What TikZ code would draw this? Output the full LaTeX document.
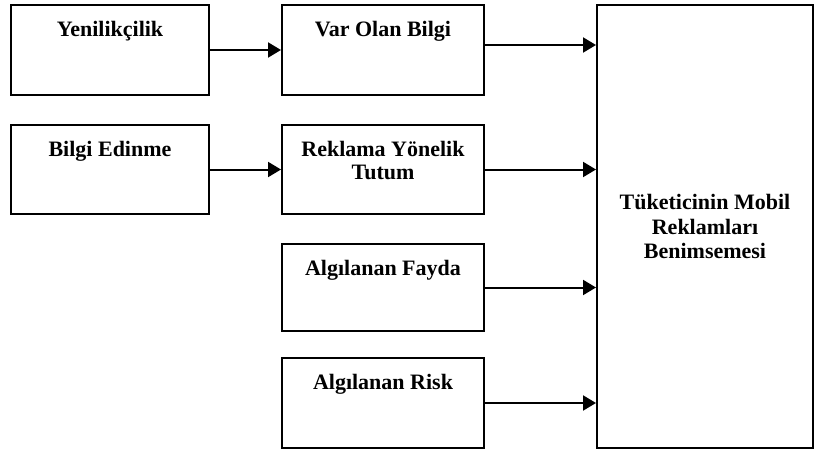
\documentclass[tikz,border=0pt]{standalone}
\usepackage{fontspec}
\setmainfont{Liberation Serif}
\usetikzlibrary{positioning,arrows.meta}

% text at the top of a box: width, height, text
\newcommand{\boxlabel}[3]{%
  \begin{minipage}[c][#2][t]{#1}\centering
  \vspace*{6.2pt}\rule{0pt}{9.3pt}\textbf{#3}
  \end{minipage}}

\tikzset{
  factor/.style={draw,rectangle,line width=1pt,inner sep=0pt,font=\fontsize{11}{11.8}\selectfont},
  link/.style={-{Triangle[length=6.5pt,width=7.5pt]},line width=1pt}
}

\begin{document}
\begin{tikzpicture}[x=0.5pt,y=-0.5pt]
    \useasboundingbox (0,0) rectangle (814,452);

    % left column
    \node[factor] (yen) at (110,50) {\boxlabel{99pt}{45pt}{Yenilik\c{c}ilik}};
    \node[factor] (edin) at (110,169.5) {\boxlabel{99pt}{44.5pt}{Bilgi Edinme}};

    % middle column
    \node[factor] (var) at (383,50) {\boxlabel{101pt}{45pt}{Var Olan Bilgi}};
    \node[factor] (tutum) at (383,169.5) {\boxlabel{101pt}{44.5pt}{Reklama Yönelik\\Tutum}};
    \node[factor] (fayda) at (383,287.5) {\boxlabel{101pt}{43.5pt}{Algılanan Fayda}};
    \node[factor] (risk) at (383,403) {\boxlabel{101pt}{45pt}{Algılanan Risk}};

    % adoption
    \node[factor,minimum width=108pt,minimum height=221.5pt,align=center,font=\fontsize{11}{12.4}\selectfont\bfseries] (benim) at (705,226.5)
        {Tüketicinin Mobil\\Reklamları\\Benimsemesi};

    % arrows
    \draw[link] (yen) -- (var);
    \draw[link] (edin) -- (tutum);
    \draw[link] ([yshift=2.5pt]var.east) -- ([yshift=2.5pt]var.east -| benim.west);
    \draw[link] (tutum.east) -- (tutum.east -| benim.west);
    \draw[link] (fayda.east) -- (fayda.east -| benim.west);
    \draw[link] (risk.east) -- (risk.east -| benim.west);
\end{tikzpicture}
\end{document}
